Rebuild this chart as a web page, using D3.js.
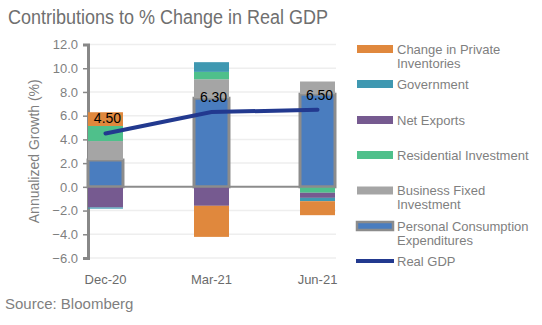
<!DOCTYPE html>
<html>
<head>
<meta charset="utf-8">
<script src="https://cdn.jsdelivr.net/npm/d3@7"></script>
<style>
  html, body { margin: 0; padding: 0; background: #ffffff; }
  svg { display: block; }
  text { font-family: "Liberation Sans", Arial, sans-serif; }
</style>
</head>
<body>
<div id="chart"></div>
<script>
// ---- Data ----
const categories = ["Dec-20", "Mar-21", "Jun-21"];
const seriesKeys = ["pce", "bfi", "res", "netx", "gov", "inv"];
const seriesNames = {
  inv: ["Change in Private", "Inventories"],
  gov: ["Government"],
  netx: ["Net Exports"],
  res: ["Residential Investment"],
  bfi: ["Business Fixed", "Investment"],
  pce: ["Personal Consumption", "Expenditures"]
};
const pce  = [2.26, 7.47, 7.81];
const bfi  = [1.60, 1.60, 1.07];
const res  = [1.27, 0.62, -0.50];
const netx = [-1.74, -1.60, -0.43];
const gov  = [-0.10, 0.82, -0.28];
const inv  = [1.16, -2.62, -1.18];
const realGDP = [4.50, 6.30, 6.50];
const gdpLabels = ["4.50", "6.30", "6.50"];
const yTicks = [-6, -4, -2, 0, 2, 4, 6, 8, 10, 12];
const legendOrder = ["inv", "gov", "netx", "res", "bfi", "pce"];

const colors = {
  pce: "#4a7dbf",
  bfi: "#a5a5a5",
  res: "#4fc08b",
  netx: "#765a90",
  gov: "#3f98b1",
  inv: "#e0883d",
  gdp: "#22398f"
};

// ---- Build table ----
const seriesVals = { pce, bfi, res, netx, gov, inv };
const table = categories.map((c, i) => {
  const row = { cat: c };
  seriesKeys.forEach(k => row[k] = seriesVals[k][i]);
  return row;
});

const W = 542, H = 325;
const svg = d3.select("#chart").append("svg").attr("width", W).attr("height", H);

const x = d3.scaleBand().domain(categories).range([88, 335]).paddingInner(0.67).paddingOuter(0);
const y = d3.scaleLinear().domain([-6, 12]).range([258, 44.5]);

// Title
svg.append("text").attr("x", 8).attr("y", 24)
  .attr("font-size", 19.5).attr("fill", "#6f6f6f")
  .attr("textLength", 320).attr("lengthAdjust", "spacingAndGlyphs")
  .text("Contributions to % Change in Real GDP");

// Gridlines
svg.append("g").selectAll("line").data(yTicks.filter(t => t !== 0)).join("line")
  .attr("x1", 88).attr("x2", 336)
  .attr("y1", d => y(d)).attr("y2", d => y(d))
  .attr("stroke", "#eeeeee").attr("stroke-width", 1.5);

// Y axis
const yAxis = d3.axisLeft(y).tickValues(yTicks).tickFormat(d3.format(".1f")).tickSize(5).tickPadding(5);
const gy = svg.append("g").attr("transform", "translate(88,0)").call(yAxis);
gy.select(".domain").attr("stroke", "#888888").attr("stroke-width", 3);
gy.selectAll(".tick line").attr("stroke", "#888888").attr("stroke-width", 1.5);
gy.selectAll(".tick text").attr("font-size", 13).attr("fill", "#7f7f7f")
  .attr("font-family", "Liberation Sans, Arial, sans-serif");

// Y axis title
svg.append("text")
  .attr("transform", `translate(39,${(y(12) + y(-6)) / 2}) rotate(-90)`)
  .attr("text-anchor", "middle").attr("font-size", 14).attr("fill", "#7f7f7f")
  .text("Annualized Growth (%)");

// Stacked bars
const stack = d3.stack().keys(seriesKeys).offset(d3.stackOffsetDiverging).order(d3.stackOrderNone);
const stacked = stack(table);

const gBars = svg.append("g");
stacked.forEach(layer => {
  const k = layer.key;
  gBars.append("g").selectAll("rect").data(layer).join("rect")
    .attr("x", d => x(d.data.cat))
    .attr("width", x.bandwidth())
    .attr("y", d => y(Math.max(d[0], d[1])))
    .attr("height", d => Math.abs(y(d[0]) - y(d[1])))
    .attr("fill", colors[k])
    .attr("stroke", k === "pce" ? "#8c8c8c" : "none")
    .attr("stroke-width", k === "pce" ? 3 : 0);
});

// Zero line
svg.append("line").attr("x1", 88).attr("x2", 336).attr("y1", y(0)).attr("y2", y(0))
  .attr("stroke", "#8c8c8c").attr("stroke-width", 2);

// Real GDP line
const line = d3.line().x((d, i) => x(categories[i]) + x.bandwidth() / 2).y(d => y(d));
svg.append("path").datum(realGDP).attr("d", line)
  .attr("fill", "none").attr("stroke", colors.gdp).attr("stroke-width", 4)
  .attr("stroke-linecap", "round");

// Data labels
svg.append("g").selectAll("text").data(realGDP).join("text")
  .attr("x", (d, i) => x(categories[i]) + x.bandwidth() / 2 + 2)
  .attr("y", d => y(d) - 10)
  .attr("text-anchor", "middle").attr("font-size", 14).attr("fill", "#000000")
  .text((d, i) => gdpLabels[i]);

// X axis labels
svg.append("g").selectAll("text").data(categories).join("text")
  .attr("x", d => x(d) + x.bandwidth() / 2)
  .attr("y", 284)
  .attr("text-anchor", "middle").attr("font-size", 13).attr("fill", "#6b6b6b")
  .text(d => d);

// Legend
const legendY = { inv: 49, gov: 84, netx: 120, res: 155, bfi: 190.5, pce: 226 };
const lg = svg.append("g");
legendOrder.forEach(k => {
  const cy = legendY[k];
  if (k === "pce") {
    lg.append("rect").attr("x", 357).attr("y", cy - 4).attr("width", 36).attr("height", 8)
      .attr("fill", colors.pce).attr("stroke", "#8c8c8c").attr("stroke-width", 2.5);
  } else {
    lg.append("rect").attr("x", 357).attr("y", cy - 4).attr("width", 36).attr("height", 8)
      .attr("fill", colors[k]);
  }
  seriesNames[k].forEach((t, j) => {
    lg.append("text").attr("x", 397).attr("y", cy + 4.5 + j * 14.3)
      .attr("font-size", 13).attr("fill", "#7f7f7f").text(t);
  });
});
lg.append("line").attr("x1", 356).attr("x2", 394).attr("y1", 261).attr("y2", 261)
  .attr("stroke", colors.gdp).attr("stroke-width", 4);
lg.append("text").attr("x", 397).attr("y", 265.5).attr("font-size", 13).attr("fill", "#7f7f7f").text("Real GDP");

// Source
svg.append("text").attr("x", 5).attr("y", 309)
  .attr("font-family", "Open Sans, Noto Sans, sans-serif")
  .attr("font-size", 15).attr("fill", "#7f7f7f")
  .text("Source: Bloomberg");
</script>
</body>
</html>
